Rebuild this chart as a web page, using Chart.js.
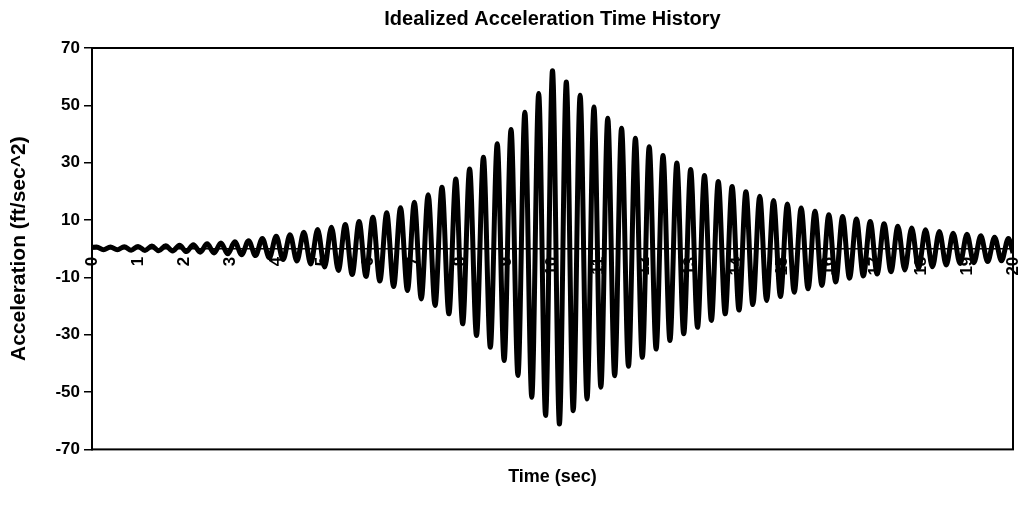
<!DOCTYPE html>
<html lang="en">
<head>
  <meta charset="UTF-8" />
  <title>Idealized Acceleration Time History</title>
  <script src="https://cdn.jsdelivr.net/npm/chart.js"></script>
  <style>
    html, body { margin: 0; padding: 0; background: #fff; }
    #wrap { width: 1024px; height: 505px; }
  </style>
</head>
<body>
  <div id="wrap"><canvas id="accelChart"></canvas></div>

  <script>
    // peaks and troughs (time in sec, acceleration in ft/sec^2)
    const timeSec = [
      0, 0.1, 0.25, 0.4, 0.55, 0.7, 0.85, 1.0, 1.15, 1.3, 1.45, 1.6, 1.75, 1.9, 2.05, 2.2, 2.35, 2.5, 2.65, 2.8,
      2.95, 3.1, 3.25, 3.4, 3.55, 3.7, 3.85, 4.0, 4.15, 4.3, 4.45, 4.6, 4.75, 4.9, 5.05, 5.2, 5.35, 5.5, 5.65, 5.8,
      5.95, 6.1, 6.25, 6.4, 6.55, 6.7, 6.85, 7.0, 7.15, 7.3, 7.45, 7.6, 7.75, 7.9, 8.05, 8.2, 8.35, 8.5, 8.65, 8.8,
      8.95, 9.1, 9.25, 9.4, 9.55, 9.7, 9.85, 10.0, 10.15, 10.3, 10.45, 10.6, 10.75, 10.9, 11.05, 11.2, 11.35, 11.5, 11.65, 11.8,
      11.95, 12.1, 12.25, 12.4, 12.55, 12.7, 12.85, 13.0, 13.15, 13.3, 13.45, 13.6, 13.75, 13.9, 14.05, 14.2, 14.35, 14.5, 14.65, 14.8,
      14.95, 15.1, 15.25, 15.4, 15.55, 15.7, 15.85, 16.0, 16.15, 16.3, 16.45, 16.6, 16.75, 16.9, 17.05, 17.2, 17.35, 17.5, 17.65, 17.8,
      17.95, 18.1, 18.25, 18.4, 18.55, 18.7, 18.85, 19.0, 19.15, 19.3, 19.45, 19.6, 19.75, 19.9, 20
    ];
    const accel = [
      0.5, 0.6, -0.4, 0.6, -0.4, 0.7, -0.5, 0.8, -0.6, 0.9, -0.7, 1.0, -0.8, 1.2, -1.0, 1.4, -1.2, 1.7, -1.5, 2.0,
      -1.8, 2.4, -2.1, 2.8, -2.4, 3.6, -3.2, 4.3, -3.8, 4.9, -4.3, 5.7, -5.3, 6.7, -6.4, 7.5, -7.6, 8.4, -9.0, 9.5,
      -9.7, 11.0, -11.3, 12.5, -13.2, 14.3, -14.6, 16.2, -17.5, 18.8, -19.8, 21.4, -22.7, 24.3, -26.2, 27.8, -30.3, 31.9, -34.4, 36.6,
      -39.0, 41.6, -44.2, 47.6, -51.8, 54.1, -58.2, 62.1, -61.1, 58.1, -56.5, 53.5, -52.4, 49.4, -48.3, 45.5, -44.3, 42.0, -41.0, 38.5,
      -37.9, 35.6, -35.0, 32.5, -32.0, 29.9, -29.7, 27.6, -27.4, 25.5, -25.0, 23.4, -22.7, 21.7, -21.4, 19.9, -19.5, 18.3, -18.1, 16.8,
      -16.7, 15.6, -15.2, 14.2, -14.0, 13.1, -12.8, 11.8, -11.6, 11.2, -10.3, 10.4, -9.5, 9.5, -8.8, 8.7, -8.0, 7.8, -7.4, 7.2,
      -6.8, 6.6, -6.3, 6.0, -5.7, 5.4, -5.2, 5.0, -4.9, 4.5, -4.5, 4.0, -4.2, 3.6, -1.5
    ];
    const xTickValues = [0, 1, 2, 3, 4, 5, 6, 7, 8, 9, 10, 11, 12, 13, 14, 15, 16, 17, 18, 19, 20];
    const yTickValues = [-70, -50, -30, -10, 10, 30, 50, 70];

    const FONT = "'Liberation Sans', Arial, sans-serif";

    // box around the plot area
    const frame = {
      id: 'frame',
      afterDraw(chart) {
        const { ctx, chartArea: a } = chart;
        ctx.save();
        ctx.strokeStyle = '#000';
        ctx.lineWidth = 2;
        ctx.strokeRect(a.left, a.top, a.right - a.left, a.bottom - a.top);
        ctx.restore();
      }
    };

    new Chart(document.getElementById('accelChart'), {
      type: 'line',
      data: {
        datasets: [{
          data: timeSec.map((t, i) => ({ x: t, y: accel[i] })),
          borderColor: '#000',
          borderWidth: 5,
          pointRadius: 0,
          fill: false,
          cubicInterpolationMode: 'monotone'
        }]
      },
      options: {
        responsive: true,
        maintainAspectRatio: false,
        animation: false,
        layout: { padding: { left: 0, right: 11, top: 0, bottom: 0 } },
        plugins: {
          legend: { display: false },
          tooltip: { enabled: false },
          title: {
            display: true,
            fullSize: false,
            text: 'Idealized Acceleration Time History',
            color: '#000',
            font: { family: FONT, size: 20, weight: 'bold' },
            padding: { top: 7, bottom: 17 }
          },
          subtitle: {
            display: true,
            position: 'bottom',
            fullSize: false,
            text: 'Time (sec)',
            color: '#000',
            font: { family: FONT, size: 18, weight: 'bold' },
            padding: { top: 17, bottom: 17 }
          }
        },
        scales: {
          x: {
            type: 'linear',
            position: { y: 0 },
            min: 0,
            max: 20,
            afterBuildTicks: s => { s.ticks = xTickValues.map(v => ({ value: v })); },
            afterFit: s => { s.paddingLeft = 0; s.paddingRight = 0; },
            grid: { display: false, drawTicks: false },
            border: { display: true, color: '#000', width: 1.5 },
            ticks: {
              color: '#000',
              font: { family: FONT, size: 17, weight: 'bold' },
              minRotation: 90,
              maxRotation: 90,
              padding: 8,
              autoSkip: false
            }
          },
          y: {
            min: -70,
            max: 70,
            afterBuildTicks: s => { s.ticks = yTickValues.map(v => ({ value: v })); },
            afterFit: s => { s.width = 92; },
            grid: { drawOnChartArea: false, color: '#000', tickLength: 8, lineWidth: 1.5 },
            border: { color: '#000', width: 2 },
            ticks: {
              color: '#000',
              font: { family: FONT, size: 17, weight: 'bold' },
              padding: 4
            },
            title: {
              display: true,
              text: 'Acceleration (ft/sec^2)',
              color: '#000',
              font: { family: FONT, size: 21, weight: 'bold' },
              padding: { top: 7, bottom: 0 }
            }
          }
        }
      },
      plugins: [frame]
    });
  </script>
</body>
</html>
